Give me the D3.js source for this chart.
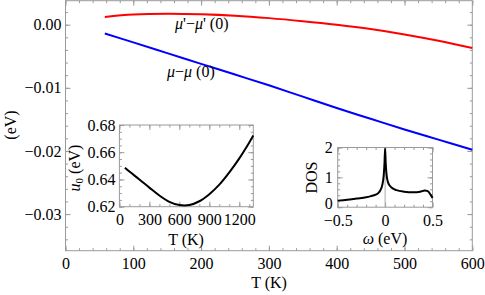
<!DOCTYPE html>
<html><head><meta charset="utf-8">
<script src="https://cdn.jsdelivr.net/npm/d3@7"></script>
<style>
body{margin:0;background:#fff;}
text{font-family:"Liberation Serif","Times New Roman",serif;font-size:16px;fill:#000;}
</style></head><body>
<svg id="c" width="485" height="295"></svg>
<script>
// ---- main plot data ----
const mainT = [58,100,150,200,250,300,350,400,450,500,550,600];
const muPrime = [0.00122,0.0016,0.00174,0.00165,0.00142,0.00104,0.00055,-0.00002,-0.0007,-0.00155,-0.00255,-0.0037];
const mu = [-0.0014,-0.0028,-0.0045,-0.0062,-0.0079,-0.0096,-0.0114,-0.0132,-0.0149,-0.0166,-0.0182,-0.0198];
const mainXTicks = [0,100,200,300,400,500,600];
const mainYTicks = [0,-0.01,-0.02,-0.03];
// ---- inset 1: u0 vs T ----
const u0T = [55,100,200,300,400,500,600,700,800,900,1000,1100,1200,1300,1340];
const u0 = [0.6486,0.6458,0.6400,0.6340,0.6282,0.6236,0.6212,0.6212,0.6240,0.6292,0.6362,0.6452,0.6555,0.6672,0.6722];
const in1XTicks = [0,300,600,900,1200];
const in1YTicks = [0.62,0.64,0.66,0.68];
// ---- inset 2: DOS vs omega ----
const omega = [-0.5,-0.4,-0.3,-0.2,-0.15,-0.1,-0.07,-0.05,-0.03,-0.015,-0.006,0,0.006,0.015,0.03,0.05,0.08,0.12,0.2,0.3,0.37,0.42,0.45,0.48,0.5];
const dos = [0.22,0.25,0.29,0.33,0.37,0.42,0.48,0.57,0.74,1.05,1.5,1.97,1.5,1.1,0.84,0.72,0.63,0.57,0.52,0.5,0.52,0.56,0.54,0.42,0.31];
const in2XTicks = [-0.5,0,0.5];
const in2YTicks = [0,1,2];

const svg = d3.select("#c");
const frameCol = "#9a9a9a";

function drawFrame(g, x, y, o){
  const [x0,x1] = x.range(), [y0,y1] = y.range();
  g.append("rect").attr("x",x0).attr("y",y1).attr("width",x1-x0).attr("height",y0-y1)
    .attr("fill","#fff");
  const ax = (gen, tr, vals, size, labels, pad, fmt) => {
    const a = g.append("g").attr("transform",tr)
      .call(gen.tickValues(vals).tickSizeInner(size).tickSizeOuter(0).tickPadding(pad)
        .tickFormat(labels ? fmt : ""));
    a.attr("font-family",null).attr("font-size",null);
    a.select(".domain").remove();
    a.selectAll("line").attr("stroke",frameCol);
    return a;
  };
  ax(d3.axisBottom(x), `translate(0,${y0})`, o.xMinor, -2.5, false, 0);
  ax(d3.axisBottom(x), `translate(0,${y0})`, o.xTicks, -5, true, o.xPad, o.xFmt);
  ax(d3.axisTop(x), `translate(0,${y1})`, o.xMinor, -2.5, false, 0);
  ax(d3.axisTop(x), `translate(0,${y1})`, o.xTicks, -5, false, 0);
  ax(d3.axisLeft(y), `translate(${x0},0)`, o.yMinor, -2.5, false, 0);
  ax(d3.axisLeft(y), `translate(${x0},0)`, o.yTicks, -5, true, o.yPad, o.yFmt);
  ax(d3.axisRight(y), `translate(${x1},0)`, o.yMinor, -2.5, false, 0);
  ax(d3.axisRight(y), `translate(${x1},0)`, o.yTicks, -5, false, 0);
  g.append("rect").attr("x",x0).attr("y",y1).attr("width",x1-x0).attr("height",y0-y1)
    .attr("fill","none").attr("stroke",frameCol).attr("stroke-width",1);
}
const range = (a,b,s) => d3.range(Math.round(a/s), Math.round(b/s)+1).map(i=>+(i*s).toFixed(6));

// ---- main ----
const X = d3.scaleLinear().domain([0,600]).range([65.5,472.3]);
const Y = d3.scaleLinear().domain([-0.0358,0.0038]).range([250.7,0.7]);
const gm = svg.append("g");
drawFrame(gm, X, Y, {
  xTicks: mainXTicks, xMinor: range(0,600,20), xPad: 7, xFmt: d3.format("d"),
  yTicks: mainYTicks, yMinor: range(-0.034,0.002,0.002), yPad: 4, yFmt: d3.format(".2f")
});
const line = d3.line().x((d,i)=>X(mainT[i])).y(d=>Y(d)).curve(d3.curveCatmullRom);
gm.append("path").attr("d",line(muPrime)).attr("fill","none").attr("stroke","#f00").attr("stroke-width",2);
gm.append("path").attr("d",line(mu)).attr("fill","none").attr("stroke","#00f").attr("stroke-width",2);

const l1 = gm.append("text").attr("x",175).attr("y",29);
l1.append("tspan").attr("font-style","italic").text("μ");
l1.append("tspan").text("'\u2212");
l1.append("tspan").attr("font-style","italic").text("μ");
l1.append("tspan").text("' (0)");
const l2 = gm.append("text").attr("x",167).attr("y",77);
l2.append("tspan").attr("font-style","italic").text("μ");
l2.append("tspan").text("\u2212");
l2.append("tspan").attr("font-style","italic").text("μ");
l2.append("tspan").text(" (0)");

gm.append("text").attr("transform","translate(16,125) rotate(-90)").attr("text-anchor","middle").text("(eV)");
gm.append("text").attr("x",269).attr("y",288).attr("text-anchor","middle").text("T (K)");

// ---- inset 1 ----
const X1 = d3.scaleLinear().domain([0,1340]).range([119.4,253.3]);
const Y1 = d3.scaleLinear().domain([0.62,0.68]).range([206.7,125]);
const g1 = svg.append("g");
drawFrame(g1, X1, Y1, {
  xTicks: in1XTicks, xMinor: range(0,1300,100), xPad: 7, xFmt: d3.format("d"),
  yTicks: in1YTicks, yMinor: range(0.62,0.68,0.005), yPad: 4, yFmt: d3.format(".2f")
});
const line1 = d3.line().x((d,i)=>X1(u0T[i])).y(d=>Y1(d)).curve(d3.curveCatmullRom);
g1.append("path").attr("d",line1(u0)).attr("fill","none").attr("stroke","#000").attr("stroke-width",2);
const u0lab = g1.append("text").attr("transform","translate(80,168) rotate(-90)").attr("text-anchor","middle");
u0lab.append("tspan").attr("font-style","italic").text("u");
u0lab.append("tspan").attr("font-size","11px").attr("dy",3).text("0");
u0lab.append("tspan").attr("dy",-3).text(" (eV)");
g1.append("text").attr("x",186).attr("y",245).attr("text-anchor","middle").text("T (K)");

// ---- inset 2 ----
const X2 = d3.scaleLinear().domain([-0.5,0.5]).range([337.7,432.5]);
const Y2 = d3.scaleLinear().domain([0,2]).range([207.2,147.5]);
const g2 = svg.append("g");
drawFrame(g2, X2, Y2, {
  xTicks: in2XTicks, xMinor: range(-0.5,0.5,0.1), xPad: 7, xFmt: d => d===0 ? "0" : d3.format(".1f")(d),
  yTicks: in2YTicks, yMinor: range(0,2,0.2), yPad: 5, yFmt: d3.format("d")
});
g2.selectAll("g.tick text").filter(d => d === 0 && this !== null).each(function(d){
  // lift the y-axis "0" a little so it clears the "−0.5" label below it
  const t = d3.select(this);
  if (t.attr("x") !== null && +t.attr("x") < 0) t.attr("dy","0.1em");
});
g2.append("line").attr("x1",X2(0)).attr("x2",X2(0)).attr("y1",Y2(0)).attr("y2",Y2(2))
  .attr("stroke","#aaa").attr("stroke-width",1);
const line2 = d3.line().x((d,i)=>X2(omega[i])).y(d=>Y2(d)).curve(d3.curveMonotoneX);
g2.append("path").attr("d",line2(dos)).attr("fill","none").attr("stroke","#000").attr("stroke-width",2);
g2.append("text").attr("transform","translate(317,177.5) rotate(-90)").attr("text-anchor","middle").text("DOS");
const wl = g2.append("text").attr("x",385).attr("y",244).attr("text-anchor","middle");
wl.append("tspan").attr("font-style","italic").text("ω");
wl.append("tspan").text(" (eV)");
</script></body></html>
